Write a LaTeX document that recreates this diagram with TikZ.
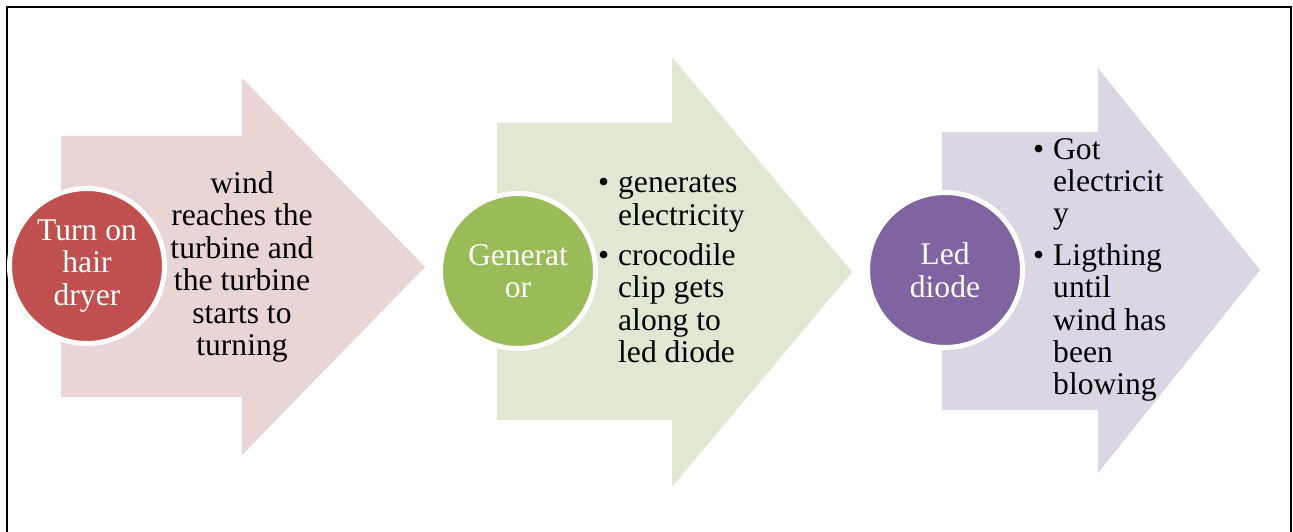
\documentclass[tikz,border=0pt]{standalone}
\usepackage{fontspec}
\setmainfont{Liberation Serif}
\usepackage{tikz}

\definecolor{redhub}{HTML}{C0504D}
\definecolor{greenhub}{HTML}{9BBB59}
\definecolor{purplehub}{HTML}{8064A2}
\definecolor{redarrow}{HTML}{E8D5D4}
\definecolor{greenarrow}{HTML}{E0E8D4}
\definecolor{purplearrow}{HTML}{DCD6E4}

\newcommand{\bigtext}{\fontsize{31.6pt}{32.4pt}\selectfont}
\newcommand{\bulitem}{\makebox[20pt][l]{\textbullet}}
\newcommand{\bulgap}{\hspace*{20pt}}

\begin{document}
\begin{tikzpicture}[x=1pt,y=-1pt,
    hub/.style={circle, minimum size=155pt, inner sep=0pt, draw=white,
      line width=5pt, text=white, align=center, font=\bigtext},
    note/.style={inner sep=0pt, font=\bigtext}]

      \useasboundingbox (0,0) rectangle (1293,532);

      % outer frame (open at the bottom)
      \draw[line width=2pt] (6.5,532) -- (6.5,7.5) -- (1291,7.5) -- (1291,532);

      % step 1: hair dryer
      \fill[redarrow] (61,136) -- (242,136) -- (242,78) -- (425,267)
        -- (242,455) -- (242,397) -- (61,397) -- cycle;
      \node[hub, fill=redhub] (dryer) at (87,266) {Turn on\\hair\\dryer};
      \node[note, align=center] (wind) at (242,267)
        {wind\\reaches the\\turbine and\\the turbine\\starts to\\turning};

      % step 2: generator
      \fill[greenarrow] (497,123) -- (672,123) -- (672,57) -- (852,272)
        -- (672,487) -- (672,420) -- (497,420) -- cycle;
      \node[hub, fill=greenhub] (gen) at (518,271) {Generat\\or};
      \node[note, align=left, anchor=west] (genlist) at (598,269)
        {\bulitem generates\\\bulgap electricity\\[8pt]
         \bulitem crocodile\\\bulgap clip gets\\\bulgap along to\\\bulgap led diode};

      % step 3: led diode
      \fill[purplearrow] (942,132) -- (1098,132) -- (1098,68) -- (1260,270)
        -- (1098,473) -- (1098,410) -- (942,410) -- cycle;
      \node[hub, fill=purplehub] (led) at (945,270) {Led\\diode};
      \node[note, align=left, anchor=west] (ledlist) at (1033,270)
        {\bulitem Got\\\bulgap electricit\\\bulgap y\\[9pt]
         \bulitem Ligthing\\\bulgap until\\\bulgap wind has\\\bulgap been\\\bulgap blowing};

\end{tikzpicture}
\end{document}
